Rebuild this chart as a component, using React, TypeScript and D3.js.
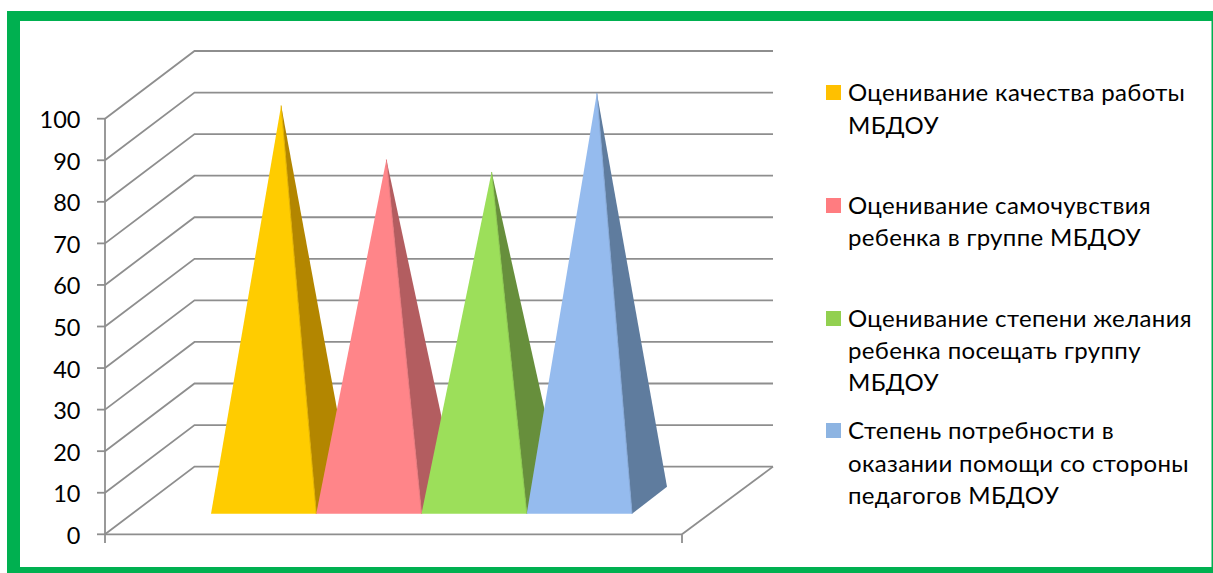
import React from "react";
import * as d3 from "d3";

const W = 1213, H = 573;
const tickValues = [0,10,20,30,40,50,60,70,80,90,100];
const seriesNames = [
  ["Оценивание качества работы", "МБДОУ"],
  ["Оценивание самочувствия", "ребенка в группе МБДОУ"],
  ["Оценивание степени желания", "ребенка посещать группу", "МБДОУ"],
  ["Степень потребности в", "оказании помощи со стороны", "педагогов МБДОУ"],
];
const seriesValues = [95, 82, 79, 98];
const frontColors = ["#FFCC00", "#FF8589", "#9CDF5A", "#95BBEE"];
const sideColors = ["#B38600", "#B35D60", "#678F3C", "#5F7C9E"];
const ridgeColors = ["#E0B000", "#E87A7E", "#8CC850", "#86A8D6"];
const legendColors = ["#FFC000", "#FF7C80", "#92D050", "#8DB4E2"];
const legendLineY = [[101, 134], [214, 246], [327, 359, 391], [439, 472, 504]];
const legendSwatchY = [85, 198, 311, 423];

const font = "Lato, 'Open Sans', sans-serif";
const depthX = 89.5, depthY = -67.7;

export default function App() {
  const y = d3.scaleLinear().domain([0, 100]).range([534.3, 118.7]);
  const x = d3.scaleBand<number>().domain(seriesValues.map((_, i) => i)).range([211, 632]).paddingInner(0);
  const grid = "#8E8E8E";
  const line = d3.line();
  const bw = x.bandwidth();
  const floorY = 513.8;
  const backDX = 35, backDY = -27;
  return (
    <svg width={W} height={H} viewBox={`0 0 ${W} ${H}`} style={{ position: "absolute", left: 0, top: 0, background: "#fff" }}>
      <rect x={7} y={11} width={1206} height={10} fill="#00B050" />
      <rect x={7} y={11} width={13} height={562} fill="#00B050" />
      <rect x={7} y={567} width={1206} height={6} fill="#00B050" />
      <rect x={1211.5} y={11} width={1.5} height={562} fill="#00B050" />

      {tickValues.map(t => (
        <g key={t}>
          <path d={line([[105, y(t)], [105 + depthX, y(t) + depthY], [773, y(t) + depthY]])!} fill="none" stroke={grid} strokeWidth={1.8} />
          <line x1={97} x2={105} y1={y(t)} y2={y(t)} stroke={grid} strokeWidth={1.8} />
          <text x={80.5} y={y(t) + 9.5} textAnchor="end" fontFamily={font} fontSize={23.5} fill="#000">{t}</text>
        </g>
      ))}
      <line x1={105} x2={105} y1={y(100)} y2={543} stroke={grid} strokeWidth={1.8} />
      <line x1={105} x2={682} y1={y(0)} y2={y(0)} stroke={grid} strokeWidth={1.8} />
      <line x1={682} x2={682} y1={y(0)} y2={543} stroke={grid} strokeWidth={1.8} />
      <line x1={682} x2={773} y1={y(0)} y2={y(0) + depthY} stroke={grid} strokeWidth={1.8} />

      {seriesValues.map((v, i) => {
        const x0 = x(i)!, x1 = x0 + bw;
        const apexX = (x0 + x1) / 2 + backDX / 2;
        const apexY = y(v) - 34;
        return (
          <g key={i}>
            <path d={line([[x1, floorY], [x1 + backDX, floorY + backDY], [apexX, apexY]])! + "Z"} fill={sideColors[i]} />
            <path d={line([[x0, floorY], [x1, floorY], [apexX, apexY]])! + "Z"} fill={frontColors[i]} />
            <path d={line([[x1, floorY], [apexX, apexY]])!} stroke={ridgeColors[i]} strokeWidth={1} fill="none" />
          </g>
        );
      })}

      {seriesNames.map((lines, i) => (
        <g key={i}>
          <rect x={826} y={legendSwatchY[i]} width={15} height={15} fill={legendColors[i]} />
          {lines.map((l, j) => (
            <text key={j} x={848} y={legendLineY[i][j]} fontFamily={font} fontSize={24} letterSpacing={0.35} fill="#000">{l}</text>
          ))}
        </g>
      ))}
    </svg>
  );
}
